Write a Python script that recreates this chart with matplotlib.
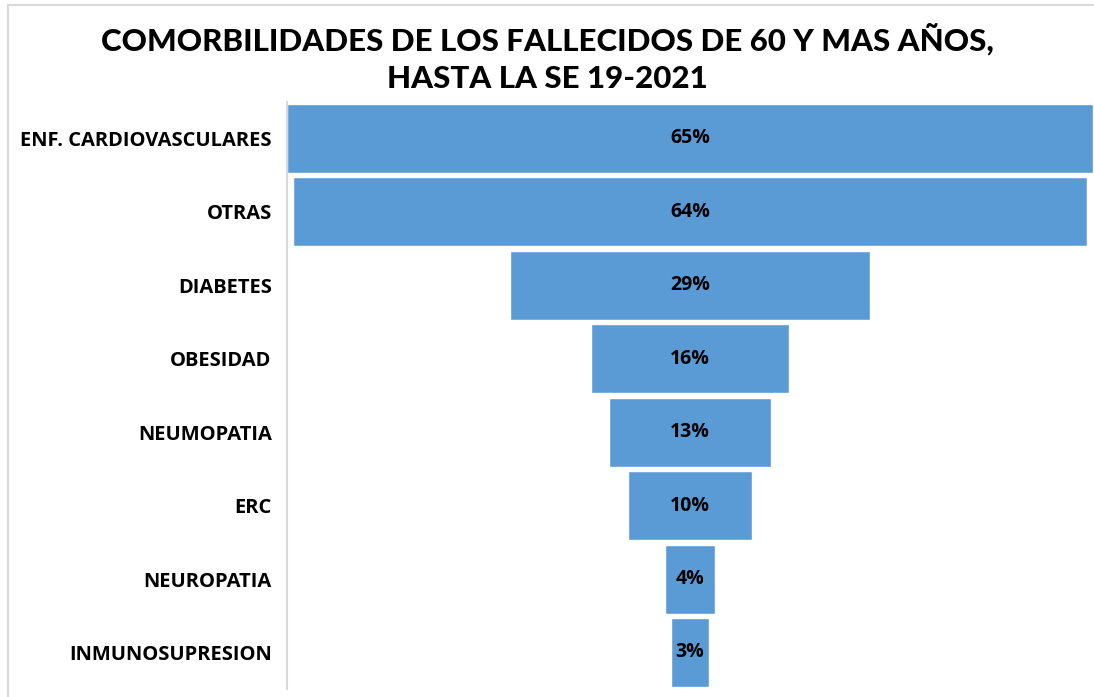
import matplotlib.pyplot as plt
from matplotlib.lines import Line2D
import numpy as np

# --- datos ---
categorias = ['ENF. CARDIOVASCULARES', 'OTRAS', 'DIABETES', 'OBESIDAD',
              'NEUMOPATIA', 'ERC', 'NEUROPATIA', 'INMUNOSUPRESION']
porcentajes = [65, 64, 29, 16, 13, 10, 4, 3]

titulo = 'COMORBILIDADES DE LOS FALLECIDOS DE 60 Y MAS AÑOS,\nHASTA LA SE 19-2021'

AZUL = '#5B9BD5'
GRIS = '#D9D9D9'

plt.rcParams['font.family'] = ['Open Sans', 'DejaVu Sans']

fig = plt.figure(figsize=(10.94, 6.97), dpi=100)
ax = fig.add_axes([0.2623, 0.0112, 0.7367, 0.8428])

# embudo: barras centradas en 0
y = np.arange(len(categorias))
vals = np.array(porcentajes, dtype=float)
ax.barh(y, vals, left=-vals / 2, height=0.94, color=AZUL,
        edgecolor='white', linewidth=1.0)

for yi, v in zip(y, porcentajes):
    ax.text(0, yi, f'{v}%', ha='center', va='center',
            fontsize=14, fontweight='bold', color='black')

ax.set_xlim(-32.5, 32.5)
ax.set_ylim(len(categorias) - 0.5, -0.5)
ax.set_yticks(y)
ax.set_yticklabels(categorias, fontsize=14.5, fontweight='bold')
ax.tick_params(axis='y', length=0, pad=11)
ax.set_xticks([])

for s in ['top', 'right', 'bottom']:
    ax.spines[s].set_visible(False)
ax.spines['left'].set_color(GRIS)
ax.spines['left'].set_linewidth(1.5)

fig.text(0.5, 0.967, titulo, ha='center', va='top', fontsize=22.5,
         fontweight='black', family=['Lato', 'DejaVu Sans'],
         linespacing=1.4)

# marco del area del grafico
fig.add_artist(Line2D([8 / 1094, 1], [1 - 5 / 697, 1 - 5 / 697],
                      transform=fig.transFigure, color=GRIS, lw=1.5))
fig.add_artist(Line2D([8 / 1094, 8 / 1094], [0, 1 - 5 / 697],
                      transform=fig.transFigure, color=GRIS, lw=1.5))

fig.savefig('out.png', dpi=100)
